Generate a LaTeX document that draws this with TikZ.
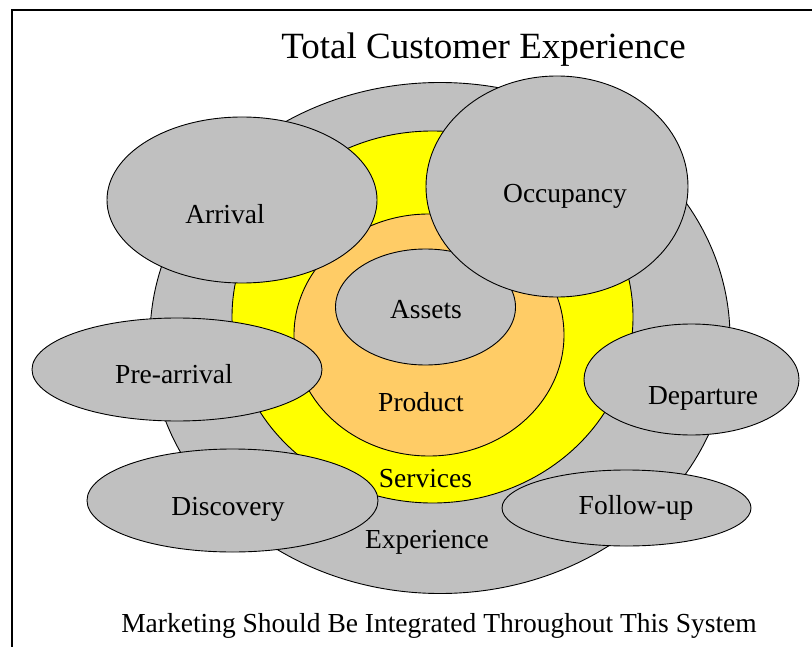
\documentclass[tikz,border=0pt]{standalone}
\usepackage{fontspec}
\setmainfont{Liberation Serif}
\usetikzlibrary{shapes.geometric}
\definecolor{silver}{HTML}{C0C0C0}
\definecolor{sunny}{HTML}{FFFF00}
\definecolor{peach}{HTML}{FFCC66}
\begin{document}
\begin{tikzpicture}[x=1bp, y=-1bp, line width=0.9bp, blob/.style = {draw, ellipse, fill=silver, inner sep=0pt}, word/.style = {anchor=base, inner sep=0pt, font=\fontsize{27.5bp}{33bp}\selectfont}]
    \useasboundingbox (0,0) rectangle (812,647);
    % Cornice e titolo
    \coordinate (fb) at (11.5,647);
    \coordinate (fc) at (11.5,10);
    \coordinate (fr) at (812,10);
    \draw[line width=2bp] (fb) -- (fc) -- (fr);
    \node[word, font=\fontsize{37bp}{44bp}\selectfont] (title) at (483.5,59) {Total Customer Experience};

    % Cerchi concentrici
    \node[blob, minimum width=580bp, minimum height=511bp] (exp) at (440,338) {};
    \node[blob, fill=sunny, minimum width=401bp, minimum height=372bp] (srv) at (432.5,317) {};
    \node[blob, fill=peach, minimum width=270bp, minimum height=242bp] (prd) at (429,335) {};
    \node[blob, minimum width=180bp, minimum height=116bp] (ast) at (425.5,307) {};

    % Fasi dell'esperienza
    \node[blob, minimum width=270bp, minimum height=166bp] (arr) at (242,200) {};
    \node[blob, minimum width=262bp, minimum height=221bp] (occ) at (557,186.5) {};
    \node[blob, minimum width=290bp, minimum height=103bp] (pre) at (177,369.5) {};
    \node[blob, minimum width=215bp, minimum height=111bp] (dep) at (691.5,379.5) {};
    \node[blob, minimum width=291bp, minimum height=103bp] (dis) at (232.5,500.5) {};
    \node[blob, minimum width=249bp, minimum height=76bp] (fol) at (626.5,508) {};

    % Testi
    \node[word] (astT) at (426,318) {Assets};
    \node[word] (prdT) at (421,411) {Product};
    \node[word] (srvT) at (425.5,487) {Services};
    \node[word] (expT) at (427,548) {Experience};
    \node[word] (arrT) at (225,224) {Arrival};
    \node[word] (occT) at (565,203) {Occupancy};
    \node[word] (preT) at (174,383) {Pre-arrival};
    \node[word] (depT) at (703,404) {Departure};
    \node[word] (disT) at (228,515) {Discovery};
    \node[word] (folT) at (636,514) {Follow-up};

    \node[word] (foot) at (439,632) {Marketing Should Be Integrated Throughout This System};

\end{tikzpicture}
\end{document}
